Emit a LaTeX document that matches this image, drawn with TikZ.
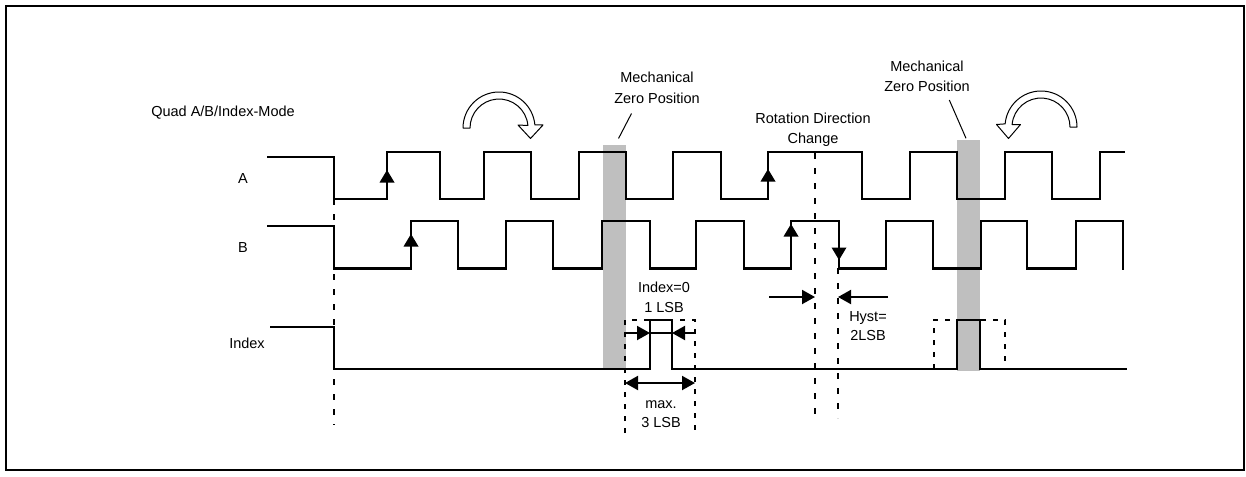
\documentclass[tikz,border=0pt]{standalone}
\usepackage{fontspec}
\setmainfont{Liberation Sans}
\usetikzlibrary{arrows.meta}
\begin{document}
\begin{tikzpicture}[x=1pt,y=-1pt,
  sig/.style={line width=2.2pt, line join=miter},
  dsh/.style={line width=2pt, dash pattern=on 6pt off 9pt},
  dshbox/.style={line width=1.8pt, dash pattern=on 5pt off 7pt},
  lead/.style={line width=1pt},
  bar/.style={fill=black!25},
  dimarrow/.style={line width=2pt, -{Triangle[length=13pt,width=14pt]}},
  dimboth/.style={line width=2pt, {Triangle[length=13pt,width=14pt]}-{Triangle[length=13pt,width=14pt]}},
  hollow/.style={fill=white, draw=black, line width=1pt, line join=round},
  lbl/.style={inner sep=0pt, anchor=base, font=\fontsize{14.5}{17}\selectfont}]
\useasboundingbox (0,0) rectangle (1246,476);
\draw[line width=2pt] (6,6) rectangle (1244,470);

% gray bars (mechanical zero positions)
\fill[bar] (603,145) rectangle (626,369);
\fill[bar] (957,140) rectangle (980,371);

% dashed guide lines
\draw[dsh] (334,199) -- (334,425);
\draw[dsh] (815,153) -- (815,418);
\draw[dsh] (838,268) -- (838,418);
\draw[dshbox] (625,433) -- (625,320) -- (695,320) -- (695,433);
\draw[dshbox] (934,369) -- (934,320) -- (1005,320) -- (1005,369);

% signal A
\draw[sig] (267,157) -- (334,157) -- (334,199) -- (387,199) -- (387,152) -- (440,152)
  -- (440,199) -- (484,199) -- (484,152) -- (531,152) -- (531,199) -- (579,199)
  -- (579,152) -- (626,152) -- (626,199) -- (673,199) -- (673,152) -- (721,152)
  -- (721,199) -- (768,199) -- (768,152) -- (862,152) -- (862,199) -- (910,199)
  -- (910,152) -- (957,152) -- (957,199) -- (1005,199) -- (1005,152) -- (1052,152)
  -- (1052,199) -- (1100,199) -- (1100,152) -- (1125,152);
% signal B
\draw[sig] (267,226) -- (334,226) -- (334,268.5) -- (411,268.5) -- (411,221) -- (458,221)
  -- (458,268.5) -- (506,268.5) -- (506,221) -- (553,221) -- (553,268.5) -- (602,268.5)
  -- (602,221) -- (650,221) -- (650,268.5) -- (696,268.5) -- (696,221) -- (744,221)
  -- (744,268.5) -- (791,268.5) -- (791,221) -- (839,221) -- (839,268.5) -- (886,268.5)
  -- (886,221) -- (933,221) -- (933,268.5) -- (981,268.5) -- (981,221) -- (1027,221)
  -- (1027,268.5) -- (1076,268.5) -- (1076,221) -- (1123,221) -- (1123,269.5);
% signal Index
\draw[sig] (270,327) -- (334,327) -- (334,369) -- (650,369) -- (650,320) -- (672,320)
  -- (672,369) -- (957,369) -- (957,320) -- (980,320) -- (980,369) -- (1127,369);

% edge arrowheads
\fill (387,170) -- ++(-7.5,12.5) -- ++(15,0) -- cycle;
\fill (411,234) -- ++(-7.5,12.5) -- ++(15,0) -- cycle;
\fill (768,169) -- ++(-7.5,12.5) -- ++(15,0) -- cycle;
\fill (791,224) -- ++(-7.5,12.5) -- ++(15,0) -- cycle;
\fill (839,260) -- ++(-7.5,-12.5) -- ++(15,0) -- cycle;

% hollow rotation arrows
\filldraw[hollow] (463,128) arc[start angle=180, end angle=355, radius=36]
  -- (543,125) -- (530.5,138.5) -- (518,125) -- (527.9,125.5)
  arc[start angle=355, end angle=180, radius=29] -- cycle;
\filldraw[hollow] (1077,127) arc[start angle=360, end angle=185, radius=36]
  -- (996.5,124.5) -- (1008.5,138.5) -- (1020.5,124.5) -- (1012.1,124.5)
  arc[start angle=185, end angle=360, radius=29] -- cycle;

% labels
\node[lbl] (quad) at (223,117) {Quad A/B/Index-Mode};
\node[lbl] (la) at (243,183) {A};
\node[lbl] (lb) at (243,252) {B};
\node[lbl] (li) at (247,348) {Index};
\node[lbl] (m1a) at (657,82.5) {Mechanical};
\node[lbl] (m1b) at (657,103) {Zero Position};
\node[lbl] (m2a) at (927,71.5) {Mechanical};
\node[lbl] (m2b) at (927,92) {Zero Position};
\node[lbl] (ra) at (813,123.3) {Rotation Direction};
\node[lbl] (rb) at (813,143.3) {Change};
\node[lbl] (ia) at (664,292.7) {Index=0};
\node[lbl] (ib) at (664,312.7) {1 LSB};
\node[lbl] (ma) at (661,408) {max.};
\node[lbl] (mb) at (661,427.7) {3 LSB};
\node[lbl] (ha) at (868,321.7) {Hyst=};
\node[lbl] (hb) at (868,340.7) {2LSB};

% leader lines
\coordinate (m1top) at (631.5,113.5);
\coordinate (m1bar) at (618.5,138.5);
\coordinate (m2top) at (949.3,100);
\coordinate (m2bar) at (966,138.3);
\draw[lead] (m1top) -- (m1bar);
\draw[lead] (m2top) -- (m2bar);

% dimension arrows
\coordinate (hl0) at (769,297);
\coordinate (hl1) at (815,297);
\coordinate (hr0) at (888,297);
\coordinate (hr1) at (838,297);
\draw[dimarrow] (hl0) -- (hl1);
\draw[dimarrow] (hr0) -- (hr1);
\coordinate (il0) at (625,333);
\coordinate (il1) at (650,333);
\coordinate (ir0) at (695,333);
\coordinate (ir1) at (672,333);
\draw[dimarrow] (il0) -- (il1);
\draw[dimarrow] (ir0) -- (ir1);
\draw[line width=2pt] (il1) -- (ir1);
\coordinate (mx0) at (625,383);
\coordinate (mx1) at (695,383);
\draw[dimboth] (mx0) -- (mx1);
\end{tikzpicture}
\end{document}
